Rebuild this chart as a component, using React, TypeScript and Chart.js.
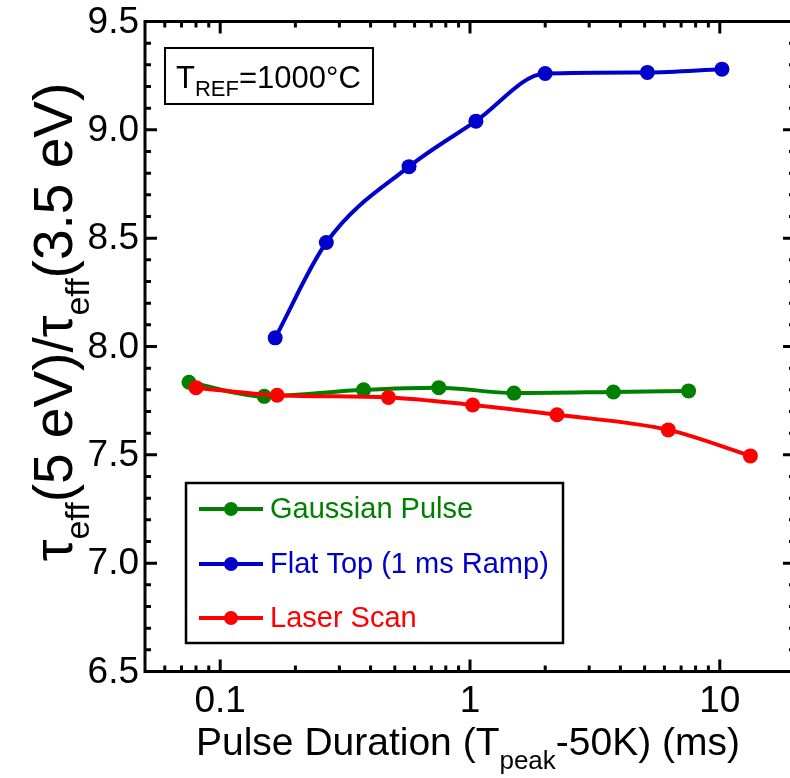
import React, { useEffect, useRef } from "react";
import { Chart, registerables } from "chart.js";
Chart.register(...registerables);

// ---- data ----
const gaussianX = [0.075, 0.15, 0.375, 0.75, 1.5, 3.75, 7.5];
const gaussianY = [7.835, 7.77, 7.8, 7.81, 7.785, 7.79, 7.795];
const flatTopX = [0.166, 0.266, 0.57, 1.056, 2.0, 5.13, 10.2];
const flatTopY = [8.04, 8.48, 8.83, 9.04, 9.26, 9.265, 9.28];
const laserX = [0.08, 0.169, 0.4715, 1.025, 2.23, 6.22, 13.26];
const laserY = [7.81, 7.775, 7.765, 7.73, 7.685, 7.615, 7.495];

const seriesNames = ["Gaussian Pulse", "Flat Top (1 ms Ramp)", "Laser Scan"];
const seriesColors = ["#008000", "#0000CC", "#FF0000"];

const xMajorTicks = [0.1, 1, 10];
const xTickLabels = ["0.1", "1", "10"];
const xMinorTicks = [0.06, 0.07, 0.08, 0.09, 0.2, 0.3, 0.4, 0.5, 0.6, 0.7, 0.8, 0.9, 2, 3, 4, 5, 6, 7, 8, 9, 20];
const yMajorTicks = [6.5, 7.0, 7.5, 8.0, 8.5, 9.0, 9.5];
const yTickLabels = ["6.5", "7.0", "7.5", "8.0", "8.5", "9.0", "9.5"];
const yMinorTicks = [6.6, 6.7, 6.8, 6.9, 7.1, 7.2, 7.3, 7.4, 7.6, 7.7, 7.8, 7.9, 8.1, 8.2, 8.3, 8.4, 8.6, 8.7, 8.8, 8.9, 9.1, 9.2, 9.3, 9.4];

const FONT = '"Liberation Sans", Arial, Helvetica, sans-serif';

type Seg = { t: string; sub?: boolean };

function drawRich(ctx: CanvasRenderingContext2D, segs: Seg[], x: number, y: number, main: number, sub: number, subDy: number, align: "left" | "center") {
  const widths = segs.map((s) => {
    ctx.font = `${s.sub ? sub : main}px ${FONT}`;
    return ctx.measureText(s.t).width;
  });
  const total = widths.reduce((a, b) => a + b, 0);
  let cx = align === "center" ? x - total / 2 : x;
  ctx.textBaseline = "alphabetic";
  ctx.textAlign = "left";
  segs.forEach((s, i) => {
    ctx.font = `${s.sub ? sub : main}px ${FONT}`;
    ctx.fillText(s.t, cx, s.sub ? y + subDy : y);
    cx += widths[i];
  });
}

const framePlugin = {
  id: "frame",
  afterDraw(chart: any) {
    const ctx: CanvasRenderingContext2D = chart.ctx;
    const { left, right, top, bottom } = chart.chartArea;
    const xs = chart.scales.x;
    const ys = chart.scales.y;
    ctx.save();
    ctx.strokeStyle = "#000";
    ctx.fillStyle = "#000";
    ctx.lineWidth = 3;
    ctx.lineCap = "butt";
    ctx.strokeRect(left, top, right - left, bottom - top);

    const major = 12;
    const minor = 6;
    ctx.lineWidth = 3;
    ctx.beginPath();
    xMajorTicks.forEach((v) => {
      const p = xs.getPixelForValue(v);
      ctx.moveTo(p, bottom); ctx.lineTo(p, bottom - major);
      ctx.moveTo(p, top); ctx.lineTo(p, top + major);
    });
    xMinorTicks.forEach((v) => {
      const p = xs.getPixelForValue(v);
      ctx.moveTo(p, bottom); ctx.lineTo(p, bottom - minor);
      ctx.moveTo(p, top); ctx.lineTo(p, top + minor);
    });
    yMajorTicks.forEach((v) => {
      const p = ys.getPixelForValue(v);
      ctx.moveTo(left, p); ctx.lineTo(left + major, p);
      ctx.moveTo(right, p); ctx.lineTo(right - major, p);
    });
    yMinorTicks.forEach((v) => {
      const p = ys.getPixelForValue(v);
      ctx.moveTo(left, p); ctx.lineTo(left + minor, p);
      ctx.moveTo(right, p); ctx.lineTo(right - minor, p);
    });
    ctx.stroke();

    // tick labels
    ctx.font = `37px ${FONT}`;
    ctx.textAlign = "right";
    ctx.textBaseline = "middle";
    yMajorTicks.forEach((v, i) => {
      ctx.fillText(yTickLabels[i], left - 6, ys.getPixelForValue(v) + 1);
    });
    ctx.textAlign = "center";
    ctx.textBaseline = "alphabetic";
    xMajorTicks.forEach((v, i) => {
      ctx.fillText(xTickLabels[i], xs.getPixelForValue(v), bottom + 40);
    });

    // x title
    drawRich(ctx, [{ t: "Pulse Duration (T" }, { t: "peak", sub: true }, { t: "-50K) (ms)" }], 468, 755, 39, 26, 14, "center");

    // y title
    ctx.save();
    ctx.translate(72, 322);
    ctx.rotate(-Math.PI / 2);
    drawRich(ctx, [{ t: "\u03C4" }, { t: "eff", sub: true }, { t: "(5 eV)/\u03C4" }, { t: "eff", sub: true }, { t: "(3.5 eV)" }], 0, 0, 55, 34, 17, "center");
    ctx.restore();

    // annotation box
    ctx.lineWidth = 2;
    ctx.strokeRect(165, 48, 208, 56);
    drawRich(ctx, [{ t: "T" }, { t: "REF", sub: true }, { t: "=1000\u00B0C" }], 176, 88, 31, 22, 8, "left");

    // legend
    ctx.lineWidth = 2.5;
    ctx.strokeRect(186, 483, 377, 160);
    const rows = [509, 564, 618];
    rows.forEach((ry, i) => {
      ctx.strokeStyle = seriesColors[i];
      ctx.fillStyle = seriesColors[i];
      ctx.lineWidth = 4;
      ctx.beginPath();
      ctx.moveTo(199, ry); ctx.lineTo(263, ry);
      ctx.stroke();
      ctx.beginPath();
      ctx.arc(231, ry, 7, 0, Math.PI * 2);
      ctx.fill();
      ctx.font = `29px ${FONT}`;
      ctx.textAlign = "left";
      ctx.textBaseline = "middle";
      ctx.fillText(seriesNames[i], 270, ry + 1);
    });
    ctx.restore();
  },
};

function pts(xs: number[], ys: number[]) {
  return xs.map((x, i) => ({ x, y: ys[i] }));
}

export default function App() {
  const ref = useRef<HTMLCanvasElement | null>(null);
  useEffect(() => {
    if (!ref.current) return;
    const mk = (i: number, data: any) => ({
      label: seriesNames[i],
      data,
      borderColor: seriesColors[i],
      backgroundColor: seriesColors[i],
      borderWidth: 4,
      pointRadius: 7.5,
      pointHoverRadius: 7.5,
      pointBorderWidth: 0,
      cubicInterpolationMode: "monotone",
      fill: false,
    });
    const chart = new Chart(ref.current, {
      type: "line",
      data: {
        datasets: [
          mk(2, pts(laserX, laserY)),
          mk(1, pts(flatTopX, flatTopY)),
          mk(0, pts(gaussianX, gaussianY)),
        ],
      },
      options: {
        animation: false,
        responsive: false,
        devicePixelRatio: 1,
        layout: { padding: { left: 145, right: 15, top: 21.5, bottom: 106.5 } },
        plugins: { legend: { display: false }, tooltip: { enabled: false } },
        scales: {
          x: { type: "logarithmic", min: 0.05, max: 20, display: false },
          y: { type: "linear", min: 6.5, max: 9.5, display: false },
        },
      },
      plugins: [framePlugin],
    });
    return () => chart.destroy();
  }, []);
  return (
    <div style={{ position: "fixed", left: 0, top: 0, width: 790, height: 778, overflow: "hidden", background: "#fff" }}>
      <canvas ref={ref} width={810} height={778} style={{ width: 810, height: 778, display: "block" }} />
    </div>
  );
}
